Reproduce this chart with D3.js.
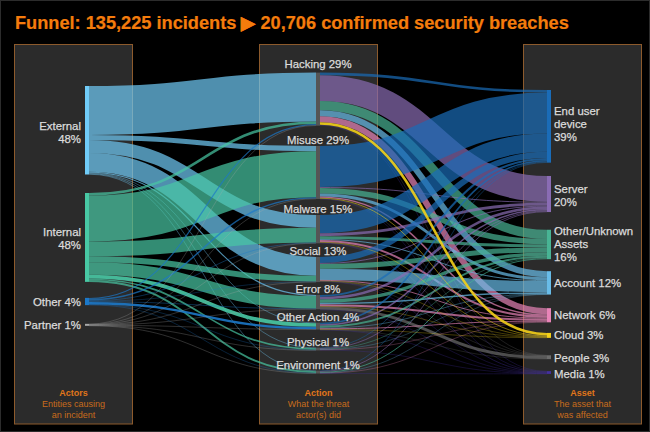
<!DOCTYPE html>
<html>
<head>
<meta charset="utf-8">
<script src="https://cdn.jsdelivr.net/npm/d3@7"></script>
<style>
    html, body { margin: 0; padding: 0; background: #000; }
    svg { display: block; font-family: "Liberation Sans", Arial, sans-serif; }
</style>
</head>
<body>
<svg></svg>
<script>
const actors = ["External", "Internal", "Other", "Partner"]
const actions = ["Hacking", "Misuse", "Malware", "Social", "Error", "Other Action", "Physical", "Environment"]
const assets = ["End user device", "Server", "Other/Unknown Assets", "Account", "Network", "Cloud", "People", "Media"]

// rows = actors, columns = actions (percent of breaches)
const externalToAction = [26.6, 2.8, 7.0, 10.2, 0.6, 0.3, 0.3, 0.3]
const internalToAction = [1.4, 25.0, 8.0, 3.2, 6.8, 2.0, 0.9, 1.0]
const otherToAction = [0.65, 0.8, 0.3, 0.2, 0.3, 1.3, 0.2, 0.2]
const partnerToAction = [0.2, 0.2, 0.1, 0.08, 0.1, 0.2, 0.1, 0.1]
const actorFlows = [externalToAction, internalToAction, otherToAction, partnerToAction]

// rows = actions, columns = assets
const hackingToAsset = [1.4, 14.0, 5.0, 3.3, 3.3, 1.4, 0.1, 0.2]
const misuseToAsset = [22.3, 0.5, 3.0, 1.6, 0.8, 0.4, 0.1, 0.2]
const malwareToAsset = [9.9, 1.6, 1.6, 0.5, 1.1, 0.3, 0.1, 0.3]
const socialToAsset = [3.3, 0.5, 2.7, 6.0, 0.5, 0.2, 0.1, 0.2]
const errorToAsset = [1.1, 1.4, 1.8, 0.8, 1.1, 0.2, 1.6, 0.2]
const otherActionToAsset = [0.9, 0.8, 1.1, 0.3, 0.5, 0.2, 0.1, 0.2]
const physicalToAsset = [0.3, 0.4, 0.3, 0.1, 0.2, 0.0, 0.0, 0.1]
const environmentToAsset = [0.3, 0.4, 0.5, 0.1, 0.2, 0.0, 0.0, 0.1]
const actionFlows = [hackingToAsset, misuseToAsset, malwareToAsset, socialToAsset, errorToAsset, otherActionToAsset, physicalToAsset, environmentToAsset]

const actorLabels = [["External", "48%"], ["Internal", "48%"], ["Other 4%"], ["Partner 1%"]]
const actionLabels = ["Hacking 29%", "Misuse 29%", "Malware 15%", "Social 13%", "Error 8%", "Other Action 4%", "Physical 1%", "Environment 1%"]
const assetLabels = [["End user", "device", "39%"], ["Server", "20%"], ["Other/Unknown", "Assets", "16%"], ["Account 12%"], ["Network 6%"], ["Cloud 3%"], ["People 3%"], ["Media 1%"]]

const actorColors = ["#70ccf8", "#48c8a4", "#1c78c8", "#a8a8a8"]
const assetColors = ["#1a6cb8", "#8a6cb4", "#48b494", "#68bce8", "#e884b8", "#f4d018", "#6c6c6c", "#4430a0"]

// space left above each node in a column, px
const actorGaps = [86, 18.5, 16, 18.7]
const actionGaps = [72.6, 20.3, 16, 13.6, 12.8, 13.4, 18, 20.2]
const assetGaps = [90, 13.3, 17.7, 12, 13.6, 10.6, 17.4, 12]

// small label shifts so the text sits where it does on the original, px
const actorLabelNudge = [2, 1.5, 0, 0]
const actionLabelLift = [5, 2, 2, 2, 2, 2, 2, 2]
const assetLabelNudge = [-2, 1, -0.5, 0, 0, 0, 1, 1]

const width = 650, height = 432
const cloudIndex = assets.indexOf("Cloud")

const svg = d3.select("svg")
    .attr("width", width)
    .attr("height", height)

const yScale = d3.scaleLinear()
    .domain([0, 100])
    .range([0, 184])

// x edges of the columns
const actorX = [85, 89], actionX = [316, 320], assetX = [547, 551]
const panels = [
    {x: 14.5, cx: 73.5, head: "Actors", lines: ["Entities causing", "an incident"]},
    {x: 259.5, cx: 318.5, head: "Action", lines: ["What the threat", "actor(s) did"]},
    {x: 523.5, cx: 582.5, head: "Asset", lines: ["The asset that", "was affected"]}
]

// frame of the picture
svg.append("rect")
    .attr("x", 0.5).attr("y", 0.5)
    .attr("width", width - 1).attr("height", height - 1)
    .attr("fill", "#000")
    .attr("stroke", "#2c2c2c")

svg.append("text")
    .attr("x", 15)
    .attr("y", 28.5)
    .attr("fill", "#f47c0c")
    .attr("stroke", "#f47c0c")
    .attr("stroke-width", 0.2)
    .attr("font-size", 18.2)
    .attr("font-weight", "bold")
    .text("Funnel: 135,225 incidents \u25B6 20,706 confirmed security breaches")

svg.append("g").selectAll("rect")
    .data(panels)
    .enter().append("rect")
    .attr("x", d => d.x)
    .attr("y", 44.5)
    .attr("width", 118)
    .attr("height", 379.5)
    .attr("fill", "#2b2b2b")
    .attr("stroke", "#8c5a2c")

// stack a column of nodes from its node totals and gaps
function stackNodes(totals, gaps) {
    let tops = []
    let y = 0
    totals.forEach((t, i) => {
        y += gaps[i]
        tops.push(y)
        y += yScale(t)
    })
    return tops
}

const actorTotals = actorFlows.map(row => d3.sum(row))
const actionInTotals = actions.map((a, j) => d3.sum(actorFlows, row => row[j]))
const assetTotals = assets.map((a, j) => d3.sum(actionFlows, row => row[j]))

const actorTops = stackNodes(actorTotals, actorGaps)
const actionTops = stackNodes(actionInTotals, actionGaps)
const assetTops = stackNodes(assetTotals, assetGaps)

// one link per source/target pair, both ends stacked in node order
function buildLinks(flows, sourceTops, targetTops, x0, x1, colors) {
    let links = []
    let targetOffset = targetTops.map(() => 0)
    flows.forEach((row, i) => {
        let sourceOffset = 0
        row.forEach((v, j) => {
            let w = yScale(v)
            if (v > 0) {
                links.push({
                    source: [x0, sourceTops[i] + sourceOffset + w / 2],
                    target: [x1, targetTops[j] + targetOffset[j] + w / 2],
                    width: w,
                    target_index: j,
                    color: colors(i, j)
                })
            }
            sourceOffset += w
            targetOffset[j] += w
        })
    })
    return links
}

const linkPath = d3.linkHorizontal()
const actorLinks = buildLinks(actorFlows, actorTops, actionTops, actorX[1], actionX[0], i => actorColors[i])
const assetLinks = buildLinks(actionFlows, actionTops, assetTops, actionX[1], assetX[0], (i, j) => assetColors[j])

// the yellow cloud ribbons run on top of everything else
const lowerLinks = assetLinks.filter(d => d.target_index != cloudIndex)
const cloudLinks = assetLinks.filter(d => d.target_index == cloudIndex)

svg.append("g")
    .attr("fill", "none")
    .attr("stroke-opacity", 0.7)
    .selectAll("path")
    .data(actorLinks.concat(lowerLinks, cloudLinks))
    .enter().append("path")
    .attr("d", linkPath)
    .attr("stroke", d => d.color)
    .attr("stroke-opacity", d => d.target_index == cloudIndex && d.width > 1 ? 0.9 : 0.7)
    .attr("stroke-width", d => Math.max(d.width, 0.4))

// node bars
function drawBars(tops, totals, x, color) {
    svg.append("g").selectAll("rect")
        .data(tops)
        .enter().append("rect")
        .attr("x", x[0])
        .attr("y", d => d)
        .attr("width", x[1] - x[0])
        .attr("height", (d, i) => yScale(totals[i]))
        .attr("fill", color)
}
drawBars(actorTops, actorTotals, actorX, (d, i) => actorColors[i])
drawBars(actionTops, actionInTotals, actionX, "#555")
drawBars(assetTops, assetTotals, assetX, (d, i) => assetColors[i])

// labels, multi line ones get centered on their node
function drawLabels(labels, tops, totals, x, anchor, nudge) {
    labels.forEach((lines, i) => {
        let mid = tops[i] + yScale(totals[i]) / 2 + nudge[i]
        lines.forEach((line, k) => {
            svg.append("text")
                .attr("x", x)
                .attr("y", mid + (k - (lines.length - 1) / 2) * 13 + 4)
                .attr("text-anchor", anchor)
                .attr("fill", "#dcdcdc")
                .attr("stroke", "#dcdcdc")
                .attr("stroke-width", 0.25)
                .attr("font-size", 11.4)
                .text(line)
        })
    })
}
drawLabels(actorLabels, actorTops, actorTotals, 81, "end", actorLabelNudge)
drawLabels(assetLabels, assetTops, assetTotals, 554, "start", assetLabelNudge)

svg.append("g").selectAll("text")
    .data(actionLabels)
    .enter().append("text")
    .attr("x", 318)
    .attr("y", (d, i) => actionTops[i] - actionLabelLift[i])
    .attr("text-anchor", "middle")
    .attr("fill", "#dcdcdc")
    .attr("stroke", "#dcdcdc")
    .attr("stroke-width", 0.25)
    .attr("font-size", 11.4)
    .text(d => d)

// panel captions
panels.forEach(p => {
    svg.append("text")
        .attr("x", p.cx).attr("y", 396)
        .attr("text-anchor", "middle")
        .attr("fill", "#e0761a")
        .attr("font-size", 9)
        .attr("font-weight", "bold")
        .text(p.head)
    p.lines.forEach((line, k) => {
        svg.append("text")
            .attr("x", p.cx).attr("y", 406.5 + k * 11)
            .attr("text-anchor", "middle")
            .attr("fill", "#c86c1c")
            .attr("font-size", 9)
            .text(line)
    })
})
</script>
</body>
</html>
